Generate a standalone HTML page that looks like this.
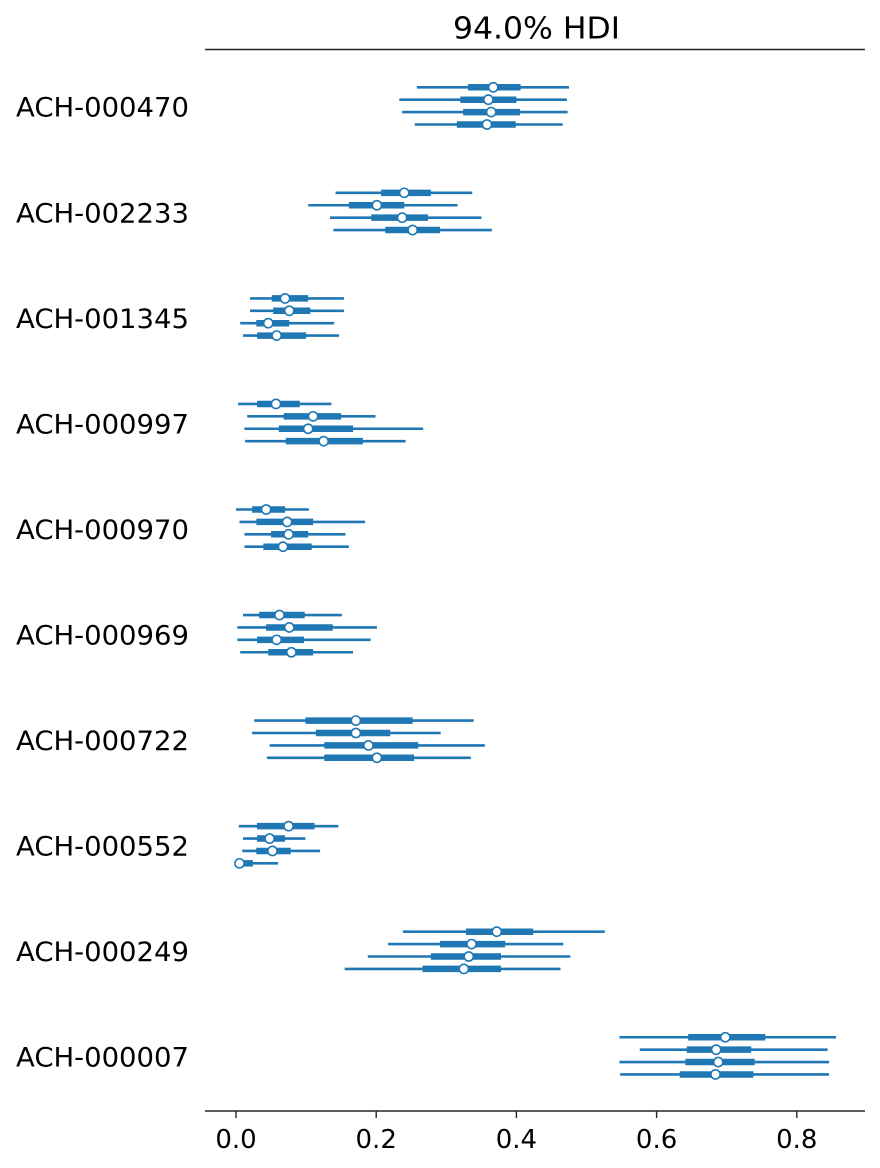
<!DOCTYPE html>
<html><head><meta charset="utf-8"><style>
html,body{margin:0;padding:0;background:#fff;}
svg{display:block;font-family:"DejaVu Sans","Liberation Sans",sans-serif;}
</style></head><body>
<svg id="chart" width="880" height="1168" viewBox="0 0 880 1168" xmlns="http://www.w3.org/2000/svg">
<text x="453" y="38.5" font-size="30" textLength="167" lengthAdjust="spacingAndGlyphs" fill="#000">94.0% HDI</text>
<line x1="205" y1="49.5" x2="865" y2="49.5" stroke="#222" stroke-width="1.4"/>
<g id="marks"></g>
<g id="axis"></g>
</svg>
<script>
const groups = ["ACH-000470","ACH-002233","ACH-001345","ACH-000997","ACH-000970","ACH-000969","ACH-000722","ACH-000552","ACH-000249","ACH-000007"];
const hdiLow = [
 [.258,.233,.237,.255],[.142,.103,.134,.139],[.020,.020,.006,.010],[.003,.016,.012,.013],[.000,.005,.012,.012],
 [.010,.002,.002,.006],[.026,.023,.048,.044],[.004,.010,.009,.005],[.238,.217,.188,.155],[.547,.576,.547,.548]];
const hdiHigh = [
 [.475,.472,.473,.466],[.337,.316,.350,.365],[.154,.154,.140,.147],[.136,.199,.267,.242],[.104,.184,.156,.161],
 [.151,.201,.192,.167],[.339,.292,.355,.335],[.146,.099,.120,.060],[.526,.467,.477,.463],[.856,.844,.846,.846]];
const iqrLow = [
 [.331,.320,.324,.315],[.207,.161,.193,.213],[.051,.053,.029,.030],[.030,.068,.061,.071],[.023,.029,.050,.039],
 [.033,.043,.030,.046],[.099,.114,.126,.126],[.030,.030,.029,.005],[.328,.291,.278,.266],[.645,.643,.641,.633]];
const iqrHigh = [
 [.406,.400,.405,.399],[.278,.240,.274,.291],[.103,.106,.076,.100],[.091,.150,.167,.181],[.070,.110,.103,.108],
 [.098,.138,.097,.110],[.252,.220,.260,.254],[.112,.070,.078,.024],[.424,.384,.378,.378],[.755,.735,.740,.738]];
const medians = [
 [.367,.360,.364,.358],[.240,.201,.237,.252],[.070,.076,.046,.058],[.057,.110,.103,.125],[.043,.073,.075,.067],
 [.062,.076,.058,.079],[.171,.171,.189,.201],[.075,.048,.052,.005],[.372,.336,.332,.325],[.698,.685,.688,.684]];
const ticks = [0.0,0.2,0.4,0.6,0.8];
const tickLabels = ["0.0","0.2","0.4","0.6","0.8"];

const NS="http://www.w3.org/2000/svg", C="#1f77b4";
const xs = v => 236 + v*701;
const ys = (g,c) => 87.3 + g*105.55 + c*12.4;
const marks=document.getElementById('marks'), axis=document.getElementById('axis');
function mk(tag,attrs,parent){const e=document.createElementNS(NS,tag);for(const k in attrs)e.setAttribute(k,attrs[k]);parent.appendChild(e);return e;}

groups.forEach((name,g)=>{
  const t=mk('text',{x:189,y:ys(g,0)+29.4,'font-size':27,'text-anchor':'end',fill:'#000',textLength:173,lengthAdjust:'spacingAndGlyphs'},axis);
  t.textContent=name;
  
  
  for(let c=0;c<4;c++){
    const y=ys(g,c);
    const l=mk('line',{x1:xs(hdiLow[g][c]),x2:xs(hdiHigh[g][c]),y1:y,y2:y,stroke:C,'stroke-width':2.6},marks);
    
    
    const q=mk('line',{x1:xs(iqrLow[g][c]),x2:xs(iqrHigh[g][c]),y1:y,y2:y,stroke:C,'stroke-width':6.5},marks);
    
    
    const p=mk('circle',{cx:xs(medians[g][c]),cy:y,r:4.6,fill:'#fff',stroke:C,'stroke-width':1.6},marks);
    
    
  }
});
const ax=mk('line',{x1:205,x2:865,y1:1111,y2:1111,stroke:'#262626','stroke-width':1.4},axis);


ticks.forEach((v,i)=>{
  const tk=mk('line',{x1:xs(v),x2:xs(v),y1:1111,y2:1118,stroke:'#262626','stroke-width':1.4},axis);
  
  
  const tl=mk('text',{x:xs(v),y:1148,'font-size':26,'text-anchor':'middle',fill:'#000'},axis);
  tl.textContent=tickLabels[i];
  
  
});
</script>
</body></html>
